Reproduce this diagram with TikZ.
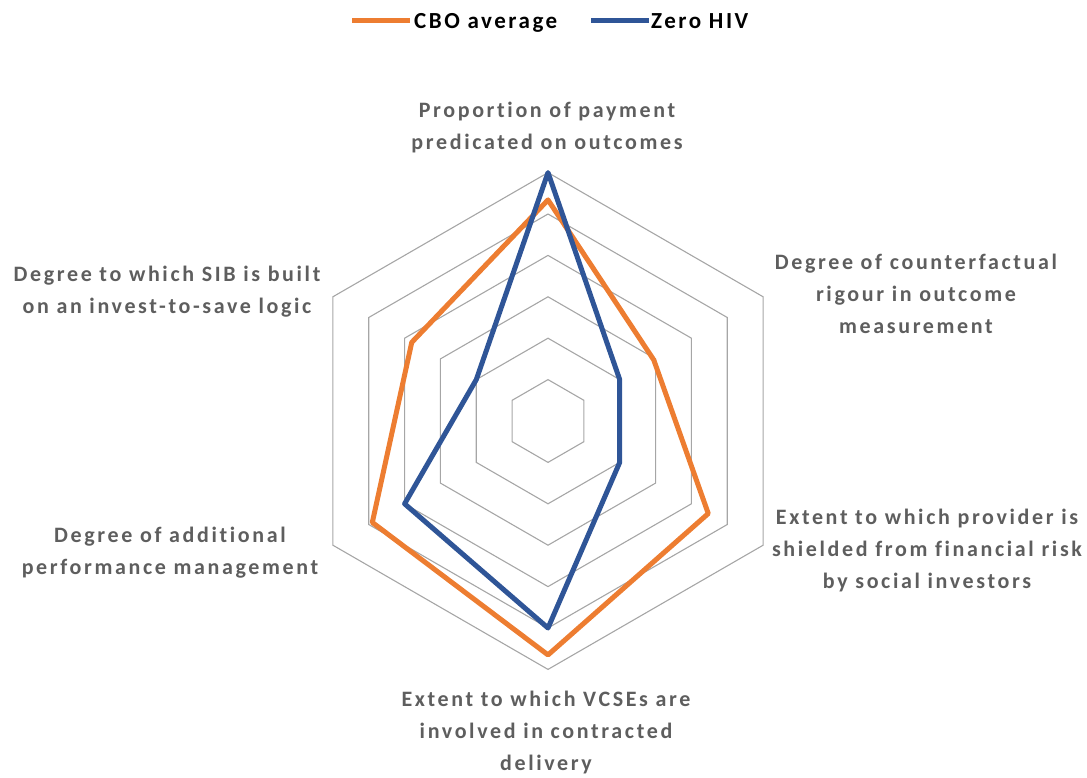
\documentclass[tikz,border=0pt]{standalone}
\usepackage{fontspec}
\setmainfont{Carlito}
\newfontfamily\labfont[LetterSpace=12,Ligatures=NoCommon]{Carlito}
\newfontfamily\legfont[LetterSpace=11,Ligatures=NoCommon]{Carlito}
\definecolor{cbo}{HTML}{ED7D31}
\definecolor{zhiv}{HTML}{2F5597}
\definecolor{gridc}{HTML}{A6A6A6}
\definecolor{labc}{HTML}{5E5E5E}
\tikzset{
  ring/.style={draw=gridc, line width=1.1pt, line join=miter},
  series/.style={line width=5pt, line join=round, line cap=round},
  axislab/.style={font=\labfont\bfseries\fontsize{22}{32}\selectfont, text=labc, align=center, inner sep=0pt, anchor=base},
  legtext/.style={font=\legfont\bfseries\fontsize{23}{28}\selectfont, text=black, inner sep=0pt, anchor=base west},
}
\begin{document}
\begin{tikzpicture}[x=1pt, y=-1pt]
\useasboundingbox (0,0) rectangle (1087,778);
\def\u{41.4}
% grid rings
\begin{scope}[shift={(548,421)}]
\foreach \k in {1,...,6}{
  \draw[ring] (-90:\k*\u) -- (-30:\k*\u) -- (30:\k*\u) -- (90:\k*\u) -- (150:\k*\u) -- (210:\k*\u) -- cycle;
}
% data coordinates
\coordinate (c1) at (-90:5.34*\u);
\coordinate (c2) at (-30:2.95*\u);
\coordinate (c3) at (30:4.47*\u);
\coordinate (c4) at (90:5.65*\u);
\coordinate (c5) at (150:4.9*\u);
\coordinate (c6) at (210:3.8*\u);
\coordinate (z1) at (-90:6*\u);
\coordinate (z2) at (-30:2*\u);
\coordinate (z3) at (30:2*\u);
\coordinate (z4) at (90:5*\u);
\coordinate (z5) at (150:4*\u);
\coordinate (z6) at (210:2*\u);
\end{scope}
\draw[series, draw=cbo] (c1) -- (c2) -- (c3) -- (c4) -- (c5) -- (c6) -- cycle;
\draw[series, draw=zhiv] (z1) -- (z2) -- (z3) -- (z4) -- (z5) -- (z6) -- cycle;
% axis labels (anchored at the baseline of the last line)
\node[axislab] (l1) at (547,150) {Proportion of payment\\predicated on outcomes};
\node[axislab] (l2) at (916,333) {Degree of counterfactual\\rigour in outcome\\measurement};
\node[axislab] (l3) at (927,588) {Extent to which provider is\\shielded from financial risk\\by social investors};
\node[axislab] (l4) at (546,770) {Extent to which VCSEs are\\involved in contracted\\delivery};
\node[axislab] (l5) at (170,574) {Degree of additional\\performance management};
\node[axislab] (l6) at (167,313) {Degree to which SIB is built\\on an invest-to-save logic};
% legend
\coordinate (la) at (352,21);
\coordinate (lb) at (410,21);
\draw[series, line cap=butt, draw=cbo] (la) -- (lb);
\node[legtext] (t1) at (414,29) {CBO average};
\coordinate (lc) at (591,21);
\coordinate (ld) at (649,21);
\draw[series, line cap=butt, draw=zhiv] (lc) -- (ld);
\node[legtext] (t2) at (651,29) {Zero HIV};
\end{tikzpicture}
\end{document}
